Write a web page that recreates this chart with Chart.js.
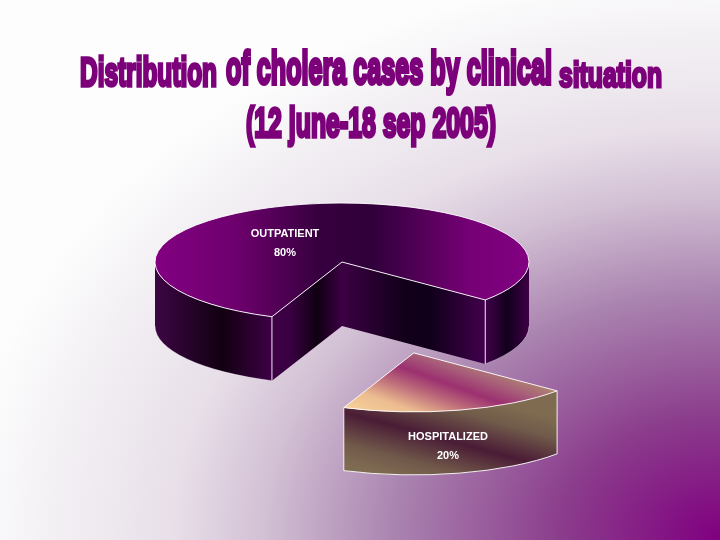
<!DOCTYPE html>
<html>
<head>
<meta charset="utf-8">
<title>Distribution of cholera cases</title>
<script src="https://cdn.jsdelivr.net/npm/chart.js@4"></script>
<style>
html, body { margin: 0; padding: 0; background: #fff; }
canvas { display: block; }
</style>
</head>
<body>
<canvas id="pie3d" width="720" height="540"></canvas>
<script>
const categories = ['OUTPATIENT', 'HOSPITALIZED'];
const shares = [80, 20];

// look of the 3d pie
const pieX = 342, pieY = 262, pieRadius = 187;
const squash = 59 / 187;
const depths = [64, 63];
const explodeBy = [0, 297];
const startRotation = 202;
const labelSpots = [[285, 234], [448, 437]];

const canvas = document.getElementById('pie3d');
const ctx = canvas.getContext('2d');

function bandGradient(x0, y0, x1, y1, stops) {
    const g = ctx.createLinearGradient(x0, y0, x1, y1);
    stops.forEach(s => g.addColorStop(s[0], s[1]));
    return g;
}

function xStops(list, x0, x1) {
    return list.map(s => [(s[0] - x0) / (x1 - x0), s[1]]);
}

const topPurple = bandGradient(155, 0, 529, 0, xStops([
    [155, '#820082'], [235, '#6e006e'], [320, '#36003e'], [372, '#30003a'], [470, '#760076'], [529, '#820082']
], 155, 529));

const wallPurple = bandGradient(155, 0, 529, 0, xStops([
    [155, '#3c0644'], [222, '#120012'], [272, '#3e0046'], [290, '#3a0042'], [317, '#100012'], [342, '#3c0044'],
    [403, '#12001a'], [430, '#10001a'], [485, '#42004c'], [507, '#12001c'], [529, '#3e0046']
], 155, 529));

// the top of the pulled out slice is painted squashed, so the screen gradient is
// turned into the unsquashed space before it is made
function sliceTopGradient() {
    const mid = (40 + 112) / 2 * Math.PI / 180;
    const dx = Math.cos(mid) * explodeBy[1], dy = Math.sin(mid) * explodeBy[1] * squash;
    const sx = 345, sy = 410, len = 90;
    const ax = 0.34 / len, ay = -0.94 / len * squash;
    const n = ax * ax + ay * ay;
    const x0 = sx - dx, y0 = pieY + (sy - dy - pieY) / squash;
    return bandGradient(x0, y0, x0 + ax / n, y0 + ay / n, [
        [0, '#f8d29a'], [0.25, '#ecbc90'], [0.48, '#bc6a7a'], [0.66, '#9c3070'], [0.85, '#a8607a'], [1, '#ae8470']
    ]);
}

const sliceWall = bandGradient(419, 484, 445, 388, [
    [0, '#7f6b52'], [0.2, '#71594a'], [0.5, '#4a1c36'], [0.8, '#705a4a'], [1, '#7f6c50']
]);

const fills = [topPurple, sliceTopGradient()];
const wallFills = [wallPurple, sliceWall];

function paintBackground(c, w, h) {
    c.save();
    c.translate(718, 536);
    c.scale(720, 540);
    const g = c.createRadialGradient(0, 0, 0, 0, 0, 1.05);
    g.addColorStop(0, '#800080');
    g.addColorStop(0.21, '#8b3d8c');
    g.addColorStop(0.43, '#aa84b0');
    g.addColorStop(0.6, '#d2c0d4');
    g.addColorStop(0.72, '#e8dfe9');
    g.addColorStop(0.88, '#f3f0f4');
    g.addColorStop(1, '#fdfdfd');
    c.fillStyle = g;
    c.fillRect(-1.1, -1.1, 1.2, 1.2);
    c.restore();
}

function wallPath(c, x, y, r, depth, a0, a1) {
    c.beginPath();
    c.ellipse(x, y, r, r * squash, 0, a0, a1);
    c.ellipse(x, y + depth, r, r * squash, 0, a1, a0, true);
    c.closePath();
}

function edgePoint(x, y, r, a) {
    return [x + Math.cos(a) * r, y + Math.sin(a) * r * squash];
}

function drawPie(chart) {
    const c = chart.ctx;
    const arcs = chart.getDatasetMeta(0).data;

    arcs.forEach((arc, i) => {
        const mid = (arc.startAngle + arc.endAngle) / 2;
        const ox = Math.cos(mid) * explodeBy[i];
        const oy = Math.sin(mid) * explodeBy[i] * squash;
        const x = arc.x + ox, y = arc.y + oy, r = arc.outerRadius, depth = depths[i];
        const spans = [];

        // only the part of the rim facing us gets a wall
        const full = Math.PI * 2;
        let a0 = arc.startAngle % full, a1 = arc.endAngle % full;
        if (a0 < a1) {
            spans.push([Math.max(a0, 0), Math.min(a1, Math.PI)]);
        } else {
            spans.push([0, Math.min(a1, Math.PI)]);
            spans.push([a0, Math.PI]);
        }

        c.fillStyle = wallFills[i];
        spans.forEach(s => {
            if (s[1] <= s[0]) return;
            wallPath(c, x, y, r, depth, s[0], s[1]);
            c.fill();
        });

        // faces of the notch left by the slice
        const pA = edgePoint(x, y, r, a0), pB = edgePoint(x, y, r, a1);
        if (i === 0) {
            c.beginPath();
            c.moveTo(pA[0], pA[1]);
            c.lineTo(x, y);
            c.lineTo(pB[0], pB[1]);
            c.lineTo(pB[0], pB[1] + depth);
            c.lineTo(x, y + depth);
            c.lineTo(pA[0], pA[1] + depth);
            c.closePath();
            c.fill();
        }

        c.save();
        c.translate(ox, oy);
        c.translate(arc.x, arc.y);
        c.scale(1, squash);
        c.translate(-arc.x, -arc.y);
        arc.draw(c);
        c.restore();

        // thin white edges
        c.strokeStyle = 'rgba(255,255,255,0.9)';
        c.lineWidth = 1;
        c.beginPath();
        c.ellipse(x, y, r, r * squash, 0, arc.startAngle, arc.endAngle);
        c.lineTo(x, y);
        c.closePath();
        c.stroke();
        c.strokeStyle = 'rgba(255,255,255,' + (i === 0 ? 0.35 : 0.9) + ')';
        spans.forEach(s => {
            if (s[1] <= s[0]) return;
            c.beginPath();
            c.ellipse(x, y + depth, r, r * squash, 0, s[0], s[1]);
            c.stroke();
        });
        c.strokeStyle = 'rgba(255,255,255,0.9)';
        c.beginPath();
        c.moveTo(pA[0], pA[1]);
        c.lineTo(pA[0], pA[1] + depth);
        c.moveTo(pB[0], pB[1]);
        c.lineTo(pB[0], pB[1] + depth);
        c.stroke();
    });
}

function drawLabels(c) {
    c.save();
    c.fillStyle = '#ffffff';
    c.font = 'bold 11px "Liberation Sans", Arial, sans-serif';
    c.textAlign = 'center';
    c.textBaseline = 'middle';
    categories.forEach((name, i) => {
        c.fillText(name, labelSpots[i][0], labelSpots[i][1]);
        c.fillText(shares[i] + '%', labelSpots[i][0], labelSpots[i][1] + 19);
    });
    c.restore();
}

// wordart style title: narrow heavy text stretched to fit a box
function stretchedText(c, text, x0, x1, baseline, tall) {
    c.save();
    c.font = 'bold 40px "Liberation Sans Narrow", "Liberation Sans", sans-serif';
    c.textAlign = 'left';
    c.textBaseline = 'alphabetic';
    const m = c.measureText(text);
    const sx = (x1 - x0) / m.width;
    const sy = tall / c.measureText('d').actualBoundingBoxAscent;
    c.translate(x0, baseline);
    c.scale(sx, sy);
    c.fillStyle = '#7c007a';
    c.strokeStyle = '#7c007a';
    c.lineJoin = 'miter';
    c.lineWidth = 3.4;
    c.fillText(text, 0, 0);
    c.strokeText(text, 0, 0);
    c.restore();
}

function drawTitle(c) {
    stretchedText(c, 'Distribution', 80, 217, 86, 30);
    stretchedText(c, 'of cholera cases by clinical', 226, 552, 84, 35);
    stretchedText(c, 'situation', 559, 662, 87, 26);
    stretchedText(c, '(12 june-18 sep 2005)', 246, 496, 137, 32);
}

const pie3dPlugin = {
    id: 'pie3d',
    beforeDraw(chart) {
        paintBackground(chart.ctx, chart.width, chart.height);
    },
    beforeDatasetsDraw(chart) {
        drawPie(chart);
        return false;
    },
    afterDraw(chart) {
        drawTitle(chart.ctx);
        drawLabels(chart.ctx);
    }
};

new Chart(ctx, {
    type: 'pie',
    data: {
        labels: categories,
        datasets: [{
            data: shares,
            backgroundColor: fills,
            borderWidth: 0
        }]
    },
    options: {
        responsive: false,
        animation: false,
        rotation: startRotation,
        radius: pieRadius,
        layout: {
            padding: { left: 0, top: 0, right: 720 - pieX * 2, bottom: 540 - pieY * 2 }
        },
        plugins: {
            legend: { display: false },
            tooltip: { enabled: false }
        }
    },
    plugins: [pie3dPlugin]
});
</script>
</body>
</html>
